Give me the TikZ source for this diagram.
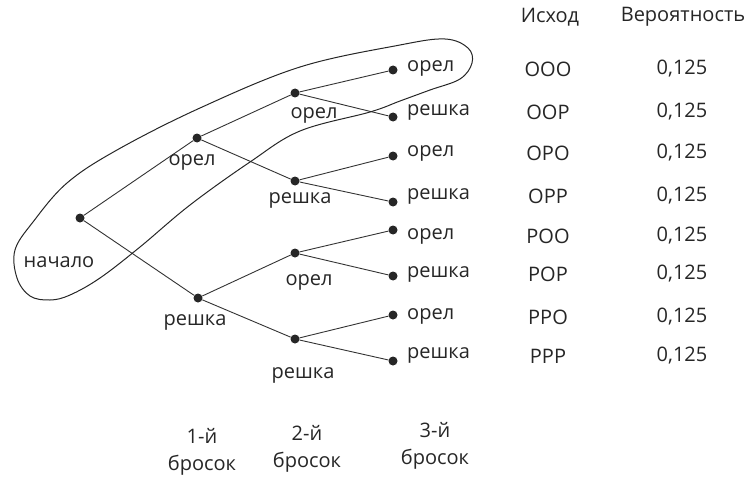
\documentclass[tikz,border=0pt]{standalone}
\usepackage{fontspec}
\setmainfont{Open Sans}
\begin{document}
\begin{tikzpicture}[x=1pt,y=-1pt,
  dot/.style={circle,inner sep=0pt,minimum size=9pt,fill=black!85},
  lbl/.style={inner sep=0pt,text=black!85,font=\fontsize{20}{24}\selectfont},
  edge/.style={draw=black!80,line width=0.9pt},
  loopline/.style={draw=black!85,line width=1pt}]
\useasboundingbox (0,0) rectangle (746,484);
% tree dots
\node[dot] (r) at (80,218) {};
\node[dot] (o) at (197,138) {};
\node[dot] (p) at (198,298) {};
\node[dot] (oo) at (295,93) {};
\node[dot] (op) at (295,181) {};
\node[dot] (po) at (295,253) {};
\node[dot] (pp) at (295,339) {};
\node[dot] (ooo) at (393,70) {};
\node[dot] (oop) at (393,117) {};
\node[dot] (opo) at (393,156) {};
\node[dot] (opp) at (393,202) {};
\node[dot] (poo) at (393,230) {};
\node[dot] (pop) at (393,276) {};
\node[dot] (ppo) at (393,315) {};
\node[dot] (ppp) at (393,361) {};
% edges
\foreach \a/\b in {r/o,r/p,o/oo,o/op,p/po,p/pp,oo/ooo,oo/oop,op/opo,op/opp,po/poo,po/pop,pp/ppo,pp/ppp}
  \draw[edge] (\a) -- (\b);
% labels
\node[lbl] (lr) at (59,262) {начало};
\node[lbl] (lo) at (192,162) {орел};
\node[lbl] (lp) at (195,322) {решка};
\node[lbl] (loo) at (314,115) {орел};
\node[lbl] (lop) at (300,200) {решка};
\node[lbl] (lpo) at (309,282) {орел};
\node[lbl] (lpp) at (303,375) {решка};
\node[lbl,anchor=west] (looo) at (407,68) {орел};
\node[lbl,anchor=west] (loop) at (407,112) {решка};
\node[lbl,anchor=west] (lopo) at (407,153) {орел};
\node[lbl,anchor=west] (lopp) at (407,196) {решка};
\node[lbl,anchor=west] (lpoo) at (407,236) {орел};
\node[lbl,anchor=west] (lpop) at (407,274) {решка};
\node[lbl,anchor=west] (lppo) at (407,316) {орел};
\node[lbl,anchor=west] (lppp) at (407,355) {решка};
% table
\node[lbl] (h1) at (550,17) {Исход};
\node[lbl] (h2) at (683,17) {Вероятность};
\foreach \s/\y [count=\i] in {ООО/69,ООР/112,ОРО/153,ОРР/196,РОО/236,РОР/274,РРО/317,РРР/356}{
  \node[lbl] (out\i) at (548,\y) {\s};
  \node[lbl] (pr\i) at (682,\y) {0,125};
}
% throws
\node[lbl,align=center] (t1) at (202,452) {1-й\\[3pt]бросок};
\node[lbl,align=center] (t2) at (307,449) {2-й\\[3pt]бросок};
\node[lbl,align=center] (t3) at (435,446) {3-й\\[3pt]бросок};
% loop
\draw[loopline] plot[smooth cycle,tension=0.6] coordinates {
 (15,250) (33,222) (67,183) (117,150) (200,108) (300,67) (400,45) (445,39)
 (468,48) (472,63) (460,79) (430,90) (400,101) (370,112) (300,131) (250,162)
 (190,205) (140,247) (100,278) (70,295) (50,300) (30,296) (17,278)};
\end{tikzpicture}
\end{document}
